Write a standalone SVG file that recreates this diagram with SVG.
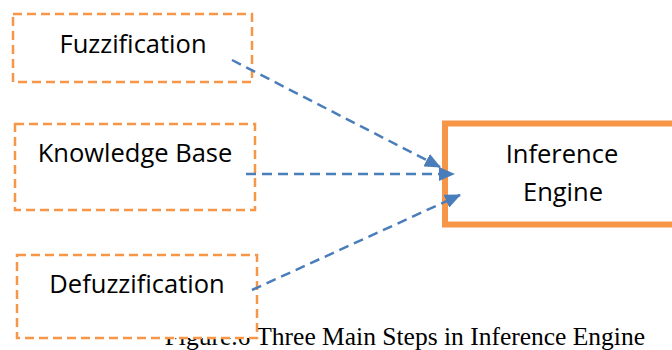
<svg xmlns="http://www.w3.org/2000/svg" width="672" height="350" viewBox="0 0 672 350">
<style>
.src{fill:#fff;stroke:#f79646;stroke-width:2.5;stroke-dasharray:9,5}
.lbl{font-family:"Open Sans","Liberation Sans",sans-serif;font-size:25.5px;fill:#000;text-anchor:middle}
.con{stroke:#4a7ebb;stroke-width:2.5;stroke-dasharray:10,6;fill:none}
.cap{font-family:"Liberation Serif",serif;font-size:25.5px;fill:#000}
</style>
<defs>
<marker id="ah" viewBox="0 0 16 14" refX="15" refY="7" markerWidth="16" markerHeight="14" markerUnits="userSpaceOnUse" orient="auto">
<path d="M0,0L16,7L0,14Z" fill="#4a7ebb"/>
</marker>
</defs>
<rect width="672" height="350" fill="#fff"/>
<text class="cap" x="645" y="345" text-anchor="end">Figure.6 Three Main Steps in Inference Engine</text>
<g id="fuzzification">
<rect class="src" x="13" y="14" width="239" height="68"/>
<text class="lbl" x="133" y="53">Fuzzification</text>
</g>
<g id="knowledge-base">
<rect class="src" x="15" y="124" width="240" height="86"/>
<text class="lbl" x="135" y="162">Knowledge Base</text>
</g>
<g id="defuzzification">
<rect class="src" x="17" y="255" width="240" height="83"/>
<text class="lbl" x="137" y="293">Defuzzification</text>
</g>
<g id="inference-engine">
<rect x="445" y="123.5" width="240" height="101" fill="#fff" stroke="#f79646" stroke-width="6"/>
<text class="lbl" x="562" y="163">Inference</text>
<text class="lbl" x="563" y="201">Engine</text>
</g>
<g id="connectors">
<line class="con" x1="232" y1="60" x2="440" y2="167" marker-end="url(#ah)"/>
<line class="con" x1="246" y1="174" x2="454" y2="174" marker-end="url(#ah)"/>
<line class="con" x1="252" y1="290" x2="460" y2="195" marker-end="url(#ah)"/>
</g>
</svg>
